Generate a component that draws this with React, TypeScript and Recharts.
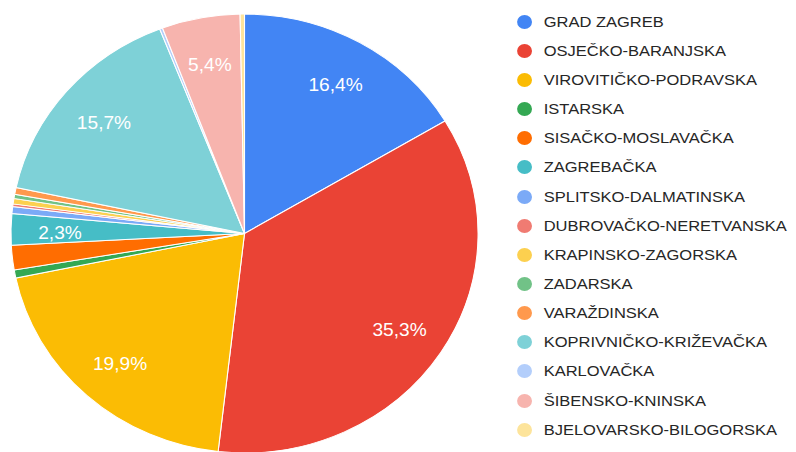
import React from 'react';
import { PieChart, Pie, Cell, Legend } from 'recharts';

const categories = [
  'GRAD ZAGREB',
  'OSJEČKO-BARANJSKA',
  'VIROVITIČKO-PODRAVSKA',
  'ISTARSKA',
  'SISAČKO-MOSLAVAČKA',
  'ZAGREBAČKA',
  'SPLITSKO-DALMATINSKA',
  'DUBROVAČKO-NERETVANSKA',
  'KRAPINSKO-ZAGORSKA',
  'ZADARSKA',
  'VARAŽDINSKA',
  'KOPRIVNIČKO-KRIŽEVAČKA',
  'KARLOVAČKA',
  'ŠIBENSKO-KNINSKA',
  'BJELOVARSKO-BILOGORSKA',
];

const shares = [16.4, 35.3, 19.9, 0.6, 1.8, 2.3, 0.5, 0.2, 0.4, 0.3, 0.5, 15.7, 0.2, 5.4, 0.3];

const colors = [
  '#4285F4', '#EA4335', '#FBBC04', '#34A853', '#FF6D01',
  '#46BDC6', '#7BAAF7', '#F07B72', '#FCD04F', '#71C287',
  '#FF994D', '#7ED1D7', '#B3CEFB', '#F7B4AE', '#FDE49B',
];

const data = categories.map((name, i) => ({ name, value: shares[i], color: colors[i] }));

const RAD = Math.PI / 180;

const renderLabel = (props: any) => {
  const { cx, cy, midAngle, outerRadius, value } = props;
  if (value < 2) return null;
  const r = outerRadius * 0.79;
  const x = cx + r * Math.cos(-midAngle * RAD);
  const y = cy + r * Math.sin(-midAngle * RAD) + 2;
  return (
    <text
      x={x}
      y={y}
      fill="#ffffff"
      textAnchor="middle"
      dominantBaseline="central"
      fontSize={18}
      fontFamily="'Liberation Sans', Arial, sans-serif"
    >
      {value.toFixed(1).replace('.', ',')}%
    </text>
  );
};

const renderLegend = () => (
  <div style={{ fontFamily: "'Liberation Sans', Arial, sans-serif" }}>
    {data.map((d) => (
      <div
        key={d.name}
        style={{ height: 29.17, display: 'flex', alignItems: 'center' }}
      >
        <span
          style={{
            display: 'inline-block',
            width: 14,
            height: 14,
            borderRadius: '50%',
            background: d.color,
            marginRight: 11,
          }}
        />
        <span style={{ fontSize: 15.5, color: '#262626', whiteSpace: 'nowrap' }}>{d.name}</span>
      </div>
    ))}
  </div>
);

export default function App() {
  return (
    <div
      style={{
        position: 'absolute',
        left: 0,
        top: 0,
        width: 748,
        height: 452,
        transform: 'scaleX(1.064)',
        transformOrigin: '0 0',
        background: '#ffffff',
      }}
    >
      <PieChart width={748} height={454} margin={{ top: 0, right: 0, bottom: 0, left: 0 }}>
        <Pie
          data={data}
          dataKey="value"
          nameKey="name"
          cx={229.8}
          cy={233.5}
          outerRadius={219.5}
          startAngle={90}
          endAngle={-270}
          stroke="#ffffff"
          strokeWidth={1}
          label={renderLabel}
          labelLine={false}
          isAnimationActive={false}
        >
          {data.map((d) => (
            <Cell key={d.name} fill={d.color} />
          ))}
        </Pie>
        <Legend
          content={renderLegend}
          wrapperStyle={{ position: 'absolute', left: 486, top: 7, width: 260 }}
        />
      </PieChart>
    </div>
  );
}
